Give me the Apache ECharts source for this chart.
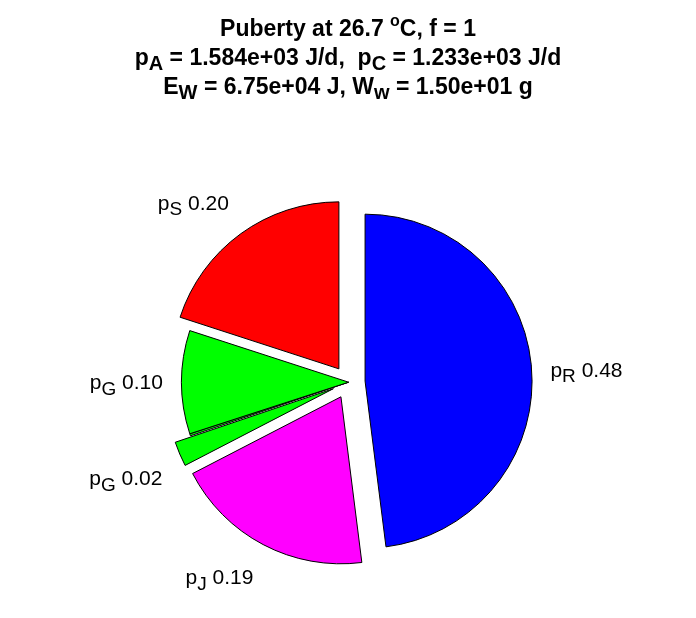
<!DOCTYPE html>
<html>
<head>
<meta charset="utf-8">
<script src="https://cdn.jsdelivr.net/npm/echarts@6/dist/echarts.min.js"></script>
<style>
  html, body { margin: 0; padding: 0; background: #fff; }
  #chart { width: 696px; height: 618px; }
</style>
</head>
<body>
<div id="chart"></div>
<script>
// ---- data (clockwise from 12 o'clock) ----
const subscripts = ['R', 'J', 'G', '', 'G', 'S'];          // flux subscripts p_X
const values     = [0.480, 0.194, 0.024, 0.002, 0.100, 0.200];
const exploded   = [true, true, true, false, false, true];
const showLabel  = [true, true, true, false, true, true];
const sliceColors = ['#0000ff', '#ff00ff', '#00ff00', '#00ff00', '#00ff00', '#ff0000'];

// ---- geometry ----
const CX = 348.6, CY = 382.2, R = 167, OFF = 16.5, LR = 1.1 * R;

const total = values.reduce((a, b) => a + b, 0);
let cum = 0;
const labelPos = values.map((v, i) => {
  const mid = (cum + v / 2) / total * 2 * Math.PI;
  cum += v;
  const dx = Math.sin(mid), dy = -Math.cos(mid);
  const bx = CX + (exploded[i] ? OFF * dx : 0);
  const by = CY + (exploded[i] ? OFF * dy : 0);
  let valign = 'middle';
  if (dy > 0.3) valign = 'top';
  else if (dy < -0.3) valign = 'bottom';
  return {
    x: bx + LR * dx,
    y: by + LR * dy,
    align: dx < 0 ? 'right' : 'left',
    valign: valign
  };
});

const chart = echarts.init(document.getElementById('chart'), null, { renderer: 'canvas' });

const FF = 'Liberation Sans';
// every token is 29px tall so that the padding alone sets its vertical shift
const titleRich = {
  b:   { fontFamily: FF, fontWeight: 'bold', fontSize: 23, color: '#000', lineHeight: 29 },
  sub: { fontFamily: FF, fontWeight: 'bold', fontSize: 20, color: '#000', lineHeight: 17, padding: [12, 0, 0, 0] },
  sup: { fontFamily: FF, fontWeight: 'bold', fontSize: 16, color: '#000', lineHeight: 12, padding: [1, 0, 16, 0] }
};

const titleText =
  '{b|Puberty at 26.7 }{sup|o}{b|C, f = 1}\n' +
  '{b|p}{sub|A}{b| = 1.584e+03 J/d,  p}{sub|C}{b| = 1.233e+03 J/d}\n' +
  '{b|E}{sub|W}{b| = 6.75e+04 J, W}{sub|w}{b| = 1.50e+01 g}';

const labelRich = {
  p: { fontFamily: FF, fontSize: 21, color: '#000', lineHeight: 25, padding: [2, 0, 3, 0] },
  s: { fontFamily: FF, fontSize: 19, color: '#000', lineHeight: 19, padding: [11, 0, 0, 0] }
};

const sliceData = values.map((v, i) => ({
  value: v,
  name: 'p' + subscripts[i] + i,
  selected: exploded[i],
  itemStyle: { color: sliceColors[i] }
}));

const labelData = values.map((v, i) => ({
  value: v,
  name: 'p' + subscripts[i] + i,
  label: { show: showLabel[i] }
}));

const option = {
  animation: false,
  backgroundColor: '#fff',
  title: {
    left: 'center',
    top: 15,
    padding: 0,
    text: titleText,
    textStyle: { rich: titleRich, fontFamily: FF }
  },
  series: [{
    type: 'pie',
    center: [CX, CY],
    radius: [0, R],
    startAngle: 90,
    clockwise: true,
    selectedMode: 'multiple',
    selectedOffset: OFF,
    avoidLabelOverlap: false,
    minAngle: 0,
    emphasis: { disabled: true },
    itemStyle: { borderColor: '#000', borderWidth: 1 },
    select: { itemStyle: { borderColor: '#000', borderWidth: 1 } },
    label: { show: false },
    labelLine: { show: false },
    data: sliceData
  }, {
    // label carrier: same slices, invisible, not exploded
    type: 'pie',
    silent: true,
    center: [CX, CY],
    radius: [0, R],
    startAngle: 90,
    clockwise: true,
    selectedMode: false,
    avoidLabelOverlap: false,
    minAngle: 0,
    emphasis: { disabled: true },
    itemStyle: { color: 'rgba(0,0,0,0)', borderWidth: 0 },
    labelLine: { show: false },
    label: {
      position: 'outside',
      padding: [7, 2, 3, 2],
      formatter: function (p) {
        const i = p.dataIndex;
        return '{p|p}{s|' + subscripts[i] + '}{p| ' + values[i].toFixed(2) + '}';
      },
      rich: labelRich
    },
    labelLayout: function (params) {
      const L = labelPos[params.dataIndex];
      return { x: L.x, y: L.y, align: L.align, verticalAlign: L.valign, hideOverlap: false };
    },
    data: labelData
  }]
};

chart.setOption(option);
</script>
</body>
</html>
